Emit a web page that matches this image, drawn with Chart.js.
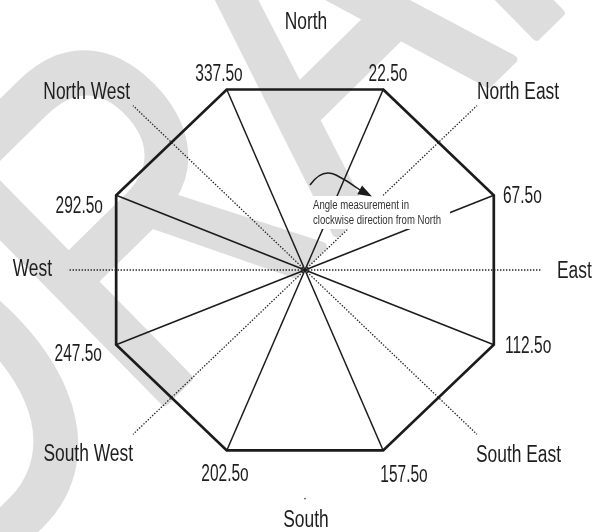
<!DOCTYPE html>
<html>
<head>
<meta charset="utf-8">
<style>
html,body{margin:0;padding:0;background:#ffffff;}
#wrap{width:594px;height:532px;position:relative;}
canvas{display:block;}
</style>
<script src="https://cdn.jsdelivr.net/npm/chart.js"></script>
</head>
<body>
<div id="wrap"><canvas id="c" width="594" height="532"></canvas></div>
<script>
// ---- data ----
const vertexAngles = [22.5, 67.5, 112.5, 157.5, 202.5, 247.5, 292.5, 337.5];
const vertexLabels = ['22.5o', '67.5o', '112.5o', '157.5o', '202.5o', '247.5o', '292.5o', '337.5o'];
const guideAngles = [45, 90, 135, 225, 270, 315];
const directionAngles = [0, 45, 90, 135, 180, 225, 270, 315];
const directionNames = ['North', 'North East', 'East', 'South East', 'South', 'South West', 'West', 'North West'];
const noteLines = ['Angle measurement in', 'clockwise direction from North'];
const watermarkText = 'DRAFT';

// ---- geometry helpers ----
const DEG = Math.PI / 180;
function polar(angle, r) { return { x: r * Math.sin(angle * DEG), y: r * Math.cos(angle * DEG) }; }

const W = 594, H = 532;
const CX = 305, CY = 270, RX = 205, RY = 196;
const xMin = -CX / RX, xMax = (W - CX) / RX;
const yMax = CY / RY, yMin = -(H - CY) / RY;

const lineBase = { type: 'scatter', showLine: true, pointRadius: 0, pointHoverRadius: 0, fill: false, tension: 0, borderColor: '#1b1b1b', backgroundColor: '#1b1b1b' };

const datasets = [];
// octagon outline
datasets.push(Object.assign({}, lineBase, {
  data: vertexAngles.concat([vertexAngles[0]]).map(a => polar(a, 1)),
  borderWidth: 2.7, borderJoinStyle: 'miter', borderCapStyle: 'round'
}));
// spokes from the centre to each vertex
vertexAngles.forEach(a => datasets.push(Object.assign({}, lineBase, {
  data: [polar(a, 0), polar(a, 1)], borderWidth: 1.5
})));
// dotted compass guides
guideAngles.forEach(a => datasets.push(Object.assign({}, lineBase, {
  data: [polar(a, 0), polar(a, a % 90 === 0 ? 1.16 : 1.19)],
  borderWidth: 1.3, borderDash: [1.4, 1.6], borderColor: '#222'
})));
// small mark above South
datasets.push({ type: 'scatter', data: [polar(180, 1.17)], pointRadius: 0.9, pointHoverRadius: 0, backgroundColor: '#555', borderWidth: 0 });

const FONT = '"Liberation Sans", Arial, sans-serif';
function drawLabel(ctx, text, x, y, align, size, sx, color) {
  ctx.save();
  ctx.font = size + 'px ' + FONT;
  ctx.fillStyle = color;
  ctx.textAlign = align;
  ctx.textBaseline = 'alphabetic';
  ctx.translate(x, y);
  ctx.scale(sx, 1);
  ctx.fillText(text, 0, 0);
  ctx.restore();
}

const degreeLayout = [[83, -197, 'center'], [198, -75, 'left'], [200, 75, 'left'], [99, 204, 'center'],
  [-80, 203, 'center'], [-203, 83, 'right'], [-202, -65, 'right'], [-86, -197, 'center']];
const directionLayout = [[1, -249, 'center'], [172, -179, 'left'], [252, 0, 'left'], [171, 184, 'left'],
  [1, 249, 'center'], [-172, 183, 'right'], [-253, -2, 'right'], [-175, -179, 'right']];

const diagramPlugin = {
  id: 'diagram',
  beforeDatasetsDraw(chart) {
    // faint "DRAFT" watermark behind the diagram
    const ctx = chart.ctx;
    ctx.save();
    ctx.fillStyle = '#dddddd';
    ctx.strokeStyle = '#dddddd';
    ctx.lineWidth = 9;
    ctx.lineJoin = 'round';
    ctx.font = '475px ' + FONT;
    ctx.textAlign = 'left';
    ctx.textBaseline = 'alphabetic';
    ctx.translate(160, 406);
    ctx.rotate(-44.5 * DEG);
    ctx.scale(0.79, 1);
    ctx.fillText(watermarkText, -375, 0);
    ctx.strokeText(watermarkText, -375, 0);
    ctx.restore();
  },
  afterDatasetsDraw(chart) {
    const ctx = chart.ctx;
    const cx = chart.scales.x.getPixelForValue(0);
    const cy = chart.scales.y.getPixelForValue(0);
    const col = '#1e1e1e';
    vertexLabels.forEach((t, i) => {
      const L = degreeLayout[i];
      drawLabel(ctx, t, cx + L[0], cy + L[1] + 8.5, L[2], 23.5, 0.66, col);
    });
    directionNames.forEach((t, i) => {
      const L = directionLayout[i];
      drawLabel(ctx, t, cx + L[0], cy + L[1] + 8.5, L[2], 23.5, 0.74, col);
    });
    // note box
    ctx.save();
    ctx.fillStyle = '#ffffff';
    ctx.fillRect(cx + 5, cy - 74, 140, 33);
    ctx.restore();
    drawLabel(ctx, noteLines[0], cx + 8, cy - 60.5, 'left', 12, 0.8, '#333');
    drawLabel(ctx, noteLines[1], cx + 8, cy - 45.5, 'left', 12, 0.8, '#333');
    // curved arrow
    ctx.save();
    ctx.strokeStyle = '#1b1b1b';
    ctx.fillStyle = '#1b1b1b';
    ctx.lineWidth = 1.5;
    ctx.beginPath();
    ctx.moveTo(cx + 5, cy - 85);
    ctx.quadraticCurveTo(cx + 17, cy - 102, cx + 31, cy - 95);
    ctx.quadraticCurveTo(cx + 43, cy - 89, cx + 55, cy - 80);
    ctx.stroke();
    const tip = [cx + 67, cy - 73.5];
    const dx = 12, dy = 6.5, len = Math.hypot(dx, dy);
    const ux = dx / len, uy = dy / len;
    const bx = tip[0] - 14 * ux, by = tip[1] - 14 * uy;
    ctx.beginPath();
    ctx.moveTo(tip[0], tip[1]);
    ctx.lineTo(bx - 5 * uy, by + 5 * ux);
    ctx.lineTo(bx + 5 * uy, by - 5 * ux);
    ctx.closePath();
    ctx.fill();
    ctx.restore();
  }
};

new Chart(document.getElementById('c'), {
  type: 'scatter',
  data: { datasets: datasets },
  options: {
    responsive: false,
    animation: false,
    events: [],
    layout: { padding: 0 },
    plugins: { legend: { display: false }, tooltip: { enabled: false }, title: { display: false } },
    scales: {
      x: { type: 'linear', min: xMin, max: xMax, display: false },
      y: { type: 'linear', min: yMin, max: yMax, display: false }
    }
  },
  plugins: [diagramPlugin]
});
</script>
</body>
</html>
